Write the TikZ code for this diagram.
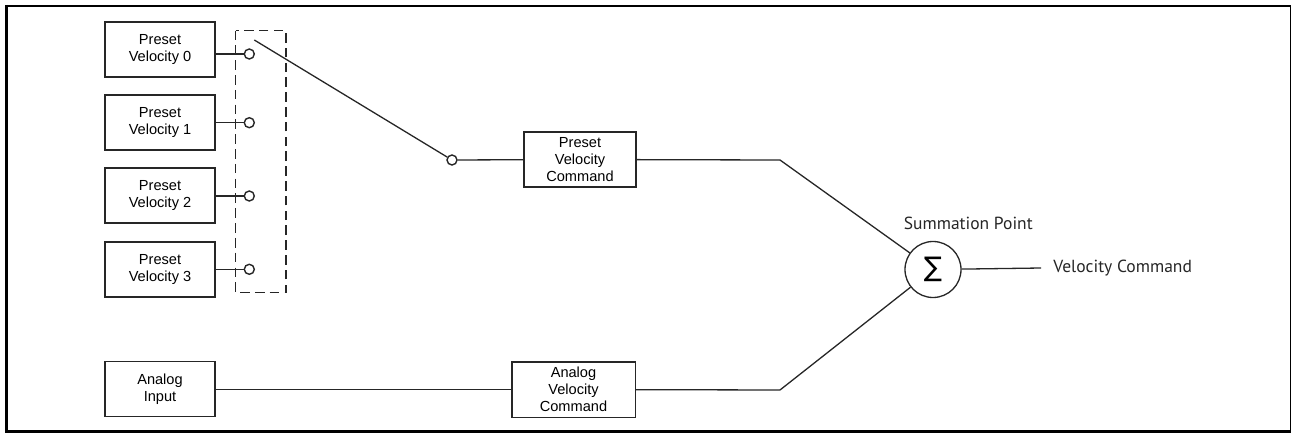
\documentclass[tikz,border=0pt]{standalone}
\usepackage{fontspec}
\setmainfont{Liberation Sans}
\newfontfamily\labelfont{PT Sans}
\newfontfamily\symfont{DejaVu Sans}
\begin{document}
\begin{tikzpicture}[x=0.5pt,y=-0.5pt,
  box/.style={draw=black!85, line width=0.8pt, align=center, inner sep=0pt,
    font=\fontsize{7.3}{8.5}\selectfont},
  pbox/.style={box, minimum width=55pt, minimum height=27.5pt},
  term/.style={circle, draw=black!85, line width=0.7pt, fill=white, minimum size=5pt, inner sep=0pt},
  conn/.style={draw=black!85, line width=0.65pt},
  lbl/.style={inner sep=0pt, font=\labelfont\fontsize{8.75}{10}\selectfont, text=black!85}]
\useasboundingbox (0,0) rectangle (1291,433);
% frame
\draw[line width=1.25pt] (5,6) -- (1291,6);
\draw[line width=0.5pt] (1290.3,6) -- (1290.3,431);
\draw[line width=1.5pt] (6.5,5) -- (6.5,433);
\draw[line width=1.5pt] (5,431.5) -- (1291,431.5);
% preset boxes
\node[pbox] (p0) at (160,49.5) {Preset\\Velocity 0};
\node[pbox] (p1) at (160,122.5) {Preset\\Velocity 1};
\node[pbox] (p2) at (160,195.5) {Preset\\Velocity 2};
\node[pbox] (p3) at (160,269.5) {Preset\\Velocity 3};
% dashed selector
\draw[draw=black!85, line width=0.7pt, dash pattern=on 4.8pt off 2.6pt] (235.7,30.7) rectangle (286,292.7);
% terminals
\node[term] (c0) at (249.3,54) {};
\node[term] (c1) at (249.3,122.7) {};
\node[term] (c2) at (249.3,196) {};
\node[term] (c3) at (249.3,269.3) {};
\draw[conn] (p0.east |- c0) -- (c0);
\draw[conn] (p1.east |- c1) -- (c1);
\draw[conn] (p2.east |- c2) -- (c2);
\draw[conn] (p3.east |- c3) -- (c3);
% switch
\node[term] (sw) at (452,160) {};
\coordinate (armtop) at (254.3,40);
\draw[conn] (armtop) -- (sw);
% preset velocity command
\node[box, minimum width=56pt, minimum height=27.75pt] (pvc) at (580,159.5) {Preset\\Velocity\\Command};
\draw[conn] (sw) -- (pvc);
% analog
\node[pbox] (ai) at (160,389) {Analog\\Input};
\node[box, minimum width=61.8pt, minimum height=27.8pt] (avc) at (573.5,389.5) {Analog\\Velocity\\Command};
\draw[conn] (ai.east |- avc) -- (avc);
% summation
\node[circle, draw=black!85, line width=0.65pt, minimum size=28pt, inner sep=0pt] (sum) at (933,269.5) {\symfont\fontsize{13.5}{13.5}\selectfont ∑};
\coordinate (bendU) at (780,160);
\coordinate (bendL) at (780,390);
\draw[conn] (pvc) -- (bendU) -- (sum);
\draw[conn] (avc) -- (bendL) -- (sum);
\node[lbl, anchor=base west] (sumlbl) at (903.5,229) {Summation Point};
\node[lbl, anchor=west, inner xsep=6pt] (out) at (1041,268) {Velocity Command};
\draw[conn] (sum) -- (out.west);
\end{tikzpicture}
\end{document}
